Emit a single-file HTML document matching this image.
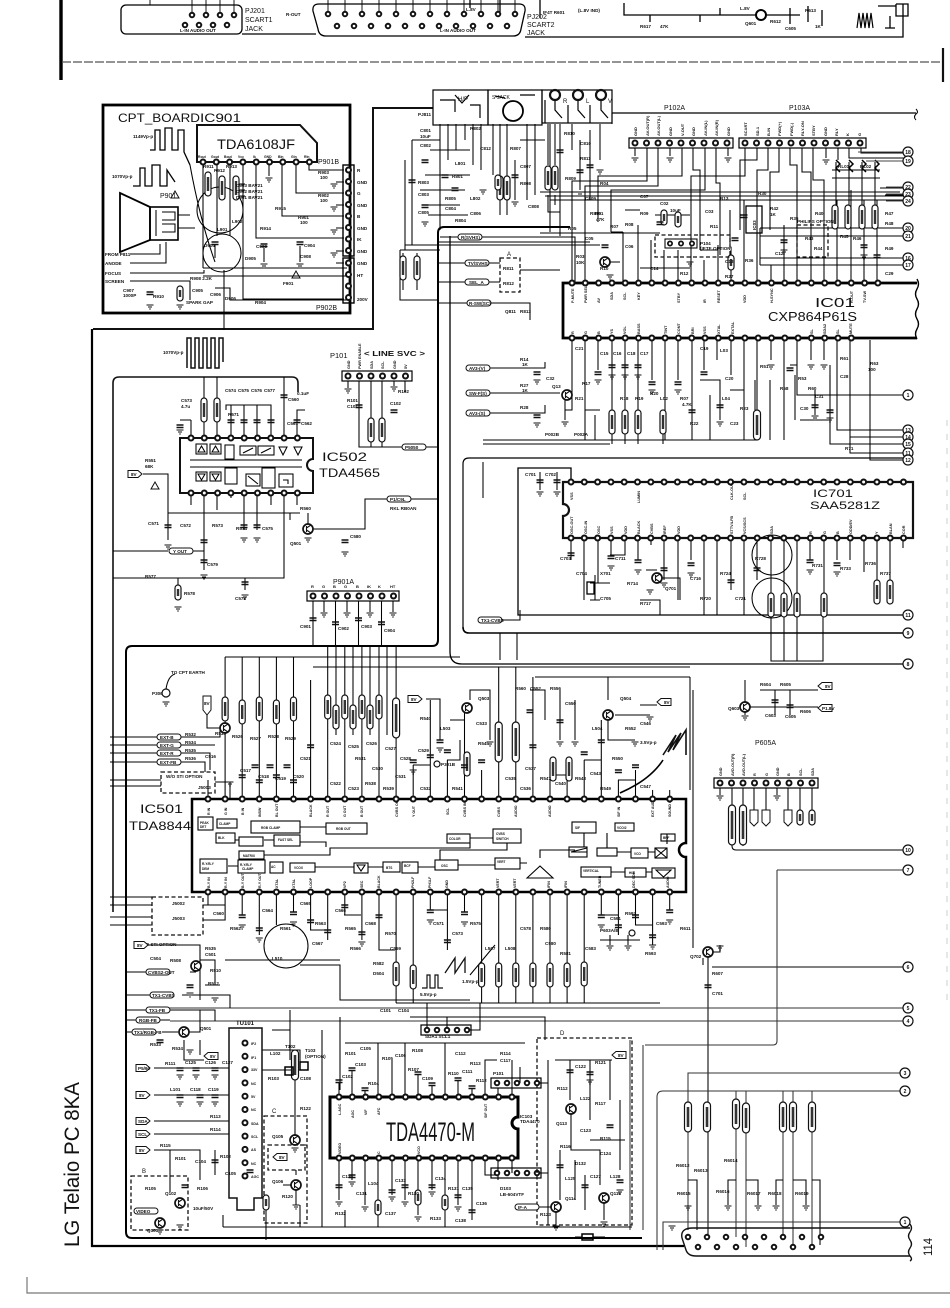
<!DOCTYPE html>
<html><head><meta charset="utf-8"><title>LG Telaio PC 8KA schematic</title>
<style>
html,body{margin:0;padding:0;background:#fff;width:950px;height:1308px;overflow:hidden}
svg{display:block}
.w{fill:none;stroke:#000;stroke-width:1.05}
.k{fill:none;stroke:#000;stroke-width:2.8}
.m{fill:none;stroke:#111;stroke-width:1.6}
.f{fill:none;stroke:#555;stroke-width:1;stroke-dasharray:9 2}
.d{fill:none;stroke:#111;stroke-width:1.3;stroke-dasharray:4 2.5}
.pd{fill:none;stroke:#111;stroke-width:7;stroke-linecap:round}
.pw{fill:none;stroke:#fff;stroke-width:3;stroke-linecap:round}
.t{font-family:"Liberation Sans",sans-serif;font-size:4.6px;font-weight:bold;fill:#111}
.s{font-family:"Liberation Sans",sans-serif;font-size:6px;fill:#111}
.L{font-family:"Liberation Sans",sans-serif;fill:#111}
.b{fill:#fff;stroke:#111;stroke-width:1.2}
</style></head><body>
<svg xmlns="http://www.w3.org/2000/svg" width="950" height="1308" viewBox="0 0 950 1308">
<rect width="950" height="1308" fill="#fff"/>
<defs>
<g id="pv"><rect x="-3" y="0" width="6" height="24" rx="3" fill="#fff" stroke="#111" stroke-width="1.2"/><path d="M0,5V19" stroke="#333" stroke-width="2.4"/></g>
<g id="pm"><rect x="-3.5" y="0" width="7" height="30" rx="3.5" fill="#fff" stroke="#111" stroke-width="1.2"/><path d="M0,5V25" stroke="#333" stroke-width="2.6"/></g>
<g id="ps"><rect x="-3" y="0" width="6" height="15" rx="3" fill="#fff" stroke="#111" stroke-width="1.2"/><path d="M0,4V11" stroke="#333" stroke-width="2.4"/></g>
<g id="pl"><rect x="-3.5" y="0" width="7" height="40" rx="3.5" fill="#fff" stroke="#111" stroke-width="1.2"/><path d="M0,6V34" stroke="#333" stroke-width="2.6"/></g>
<g id="g"><path d="M-3.5,0H3.5M-2,2H2M-.8,4H.8" stroke="#111" stroke-width="1" fill="none"/></g>
<g id="c"><path d="M-3.5,0H3.5M-3.5,2.5H3.5" stroke="#111" stroke-width="1.4" fill="none"/></g>
<g id="q"><circle r="5" fill="#fff" stroke="#111" stroke-width="1.7"/><path d="M-1.5,-3V3M-1.5,-1L3,-4M-1.5,1L3,4" stroke="#111" stroke-width="1.1" fill="none"/></g>
<g id="ar"><path d="M0,-3.5H10L14,0L10,3.5H0Z" fill="#fff" stroke="#111" stroke-width="1"/></g>
<g id="al"><path d="M14,-3.5H4L0,0L4,3.5H14Z" fill="#fff" stroke="#111" stroke-width="1"/></g>
<g id="tg"><rect x="0" y="-3" width="24" height="6" rx="3" fill="#fff" stroke="#111" stroke-width="1"/></g>
</defs>

<!-- ================= TOP STRIP ================= -->
<g class="w" style="stroke-width:1.3">
<path d="M61,0V80" style="stroke:#000;stroke-width:3.4"/>
<rect x="121" y="5" width="121" height="29" rx="5"/>
<path d="M242,34H316"/>
<path d="M319,4H519Q526,4 525,11L521,29Q520,36 513,36H326Q319,36 318,29L313,11Q312,4 319,4Z"/>
<path d="M525,37H903V4"/>
<path d="M150,5V0M192,15V0M206,15V0M220,15V0M234,15V0" style="stroke-width:.9"/>
<path d="M328,14V0M345,14V0M362,14V0M379,14V0M396,14V0M413,14V0M430,14V0M447,14V0M464,14V0M481,14V0M498,14V0M515,14V0" style="stroke-width:.9"/>
<path d="M624,3V15H755M767,15H800M790,8V24M808,6V22M822,10V26M650,15V22M700,15V22M720,8V15"/>
<circle cx="761" cy="15" r="5" style="stroke-width:2" fill="#fff"/>
<path d="M857,28L859,13L861,28L863,13L865,28L867,13L869,28L871,13L873,28" style="stroke-width:1.2"/>
<path d="M878,6H896M896,4V16H908V4H896M890,16V28M885,28H895"/>
<path d="M470,0V8M500,0V12M540,0V18"/>
</g>
<g class="pd" style="stroke-width:6.5"><path d="M185,25H227.1" stroke-dasharray="0 14"/><path d="M192,15H234.1" stroke-dasharray="0 14"/><path d="M328,14H515.1" stroke-dasharray="0 17"/><path d="M337,26H507.1" stroke-dasharray="0 17"/></g>
<g class="pw" style="stroke-width:2.6"><path d="M185,25H227.1" stroke-dasharray="0 14"/><path d="M192,15H234.1" stroke-dasharray="0 14"/><path d="M328,14H515.1" stroke-dasharray="0 17"/><path d="M337,26H507.1" stroke-dasharray="0 17"/></g>
<text class="s" x="245" y="13" style="font-size:7px">PJ201</text>
<text class="s" x="245" y="22" style="font-size:7px">SCART1</text>
<text class="s" x="245" y="31" style="font-size:7px">JACK</text>
<text class="s" x="527" y="19" style="font-size:7px">PJ202</text>
<text class="s" x="527" y="27" style="font-size:7px">SCART2</text>
<text class="s" x="527" y="35" style="font-size:7px">JACK</text>
<text class="t" x="180" y="32">L-IN AUDIO OUT</text>
<text class="t" x="440" y="32">L-IN AUDIO OUT</text>
<text class="t" x="286" y="16">R-OUT</text>
<text class="t" x="543" y="14">IF4T R601</text><text class="t" x="578" y="12">(L.8V IND)</text>
<text class="t" x="466" y="11">L.8V</text>
<text class="t" x="640" y="28">R617</text><text class="t" x="660" y="28">47K</text>
<text class="t" x="745" y="25">Q601</text><text class="t" x="770" y="23">R612</text><text class="t" x="785" y="30">C605</text>
<text class="t" x="805" y="12">R613</text><text class="t" x="815" y="28">1K</text><text class="t" x="740" y="10">L.8V</text>

<!-- dashed separator -->
<path class="f" d="M62,62H943" style="stroke-width:1.3"/>
<path d="M943,48V82" stroke="#111" stroke-width="2.2"/>

<!-- ================= FRAMES ================= -->
<path d="M433,108H373V329H93" class="m" style="stroke-width:2"/>
<path d="M92,329V1246H684" fill="none" stroke="#000" stroke-width="2.2"/>
<path d="M298,392V383Q298,377 292,377H119Q113,377 113,383V912" class="m"/>
<path d="M570,227H444Q438,227 438,233V640Q438,646 432,646H132Q126,646 126,652V1232Q126,1238 132,1238H642" fill="none" stroke="#000" stroke-width="2"/>
<path d="M450,236V652Q450,664 462,664H903" class="w" style="stroke-width:1.3"/>
<path d="M463,627V464Q463,458 469,458H903" class="w" style="stroke-width:1.2"/>
<path d="M463,627Q463,633 469,633H903" class="w" style="stroke-width:1.6"/>
<path d="M483,462V498" class="w"/>

<!-- ================= CPT BOARD ================= -->
<rect x="103" y="105" width="247" height="208" class="k"/>
<text class="L" x="118" y="122" style="font-size:12px" textLength="82" lengthAdjust="spacingAndGlyphs">CPT_BOARD</text>
<text class="L" x="200" y="122" style="font-size:12px" textLength="41" lengthAdjust="spacingAndGlyphs">IC901</text>
<path d="M197,125H300L317,143V162H197Z" fill="#fff" stroke="#111" stroke-width="2"/>
<text class="L" x="217" y="149" style="font-size:14px" textLength="78" lengthAdjust="spacingAndGlyphs">TDA6108JF</text>
<g class="t" style="font-size:3.4px"><text x="198" y="158">Rout</text><text x="211" y="158">Gout</text><text x="224" y="158">Bout</text><text x="238" y="158">Vcc</text><text x="253" y="158">Ik</text><text x="264" y="158">GND</text><text x="278" y="158">BIn</text><text x="291" y="158">GIn</text><text x="304" y="158">RIn</text></g>
<g class="w">
<path d="M203,162V268M217,162V236M230,162V236M243,162V299H344M256,162V238H344M269,162V176M282,162V216H344M296,162V193H344M309,162V170H344"/>
<path d="M336,182H344M336,205H344M336,228H344M336,251H344M336,263H344"/>
<path d="M150,150H155V130H160V150H165V128H172V150H178V130H184V152L190,165" style="stroke-width:1.3"/>
<path d="M133,186H140V168H145V186H152V165H160V186H167V170L175,182" style="stroke-width:1.3"/>
<path d="M190,165Q200,220 215,262"/>
<path d="M120,193L150,207V240L120,252Z" style="stroke-width:1.8"/>
<rect x="150" y="207" width="28" height="33" style="stroke-width:1.6"/>
<path d="M156,210V236M162,212H175V220H162M162,224H175V232H162M178,215H190M178,228H195"/>
<path d="M130,254H160V244M130,263H166V242M130,273H204V270M130,281H190V300M203,268H347M203,276H347M215,288H230V300H347M180,300V290"/>
<circle cx="220" cy="210" r="23"/>
<circle cx="222" cy="253" r="19"/>
<path d="M224,270V330"/>
<path d="M233,184H245M233,190H245M233,196H245"/>
<path d="M264,248V262M300,246V262M215,245V258"/>
</g>
<use href="#g" x="269" y="178"/><use href="#g" x="334" y="184"/><use href="#g" x="334" y="207"/><use href="#g" x="334" y="230"/><use href="#g" x="334" y="253"/><use href="#g" x="150" y="305"/><use href="#g" x="180" y="305"/><use href="#g" x="264" y="264"/><use href="#g" x="300" y="264"/>
<use href="#c" x="264" y="244"/><use href="#c" x="300" y="242"/><use href="#c" x="215" y="242"/><use href="#c" x="150" y="292"/>
<use href="#ps" x="180" y="286"/>
<use href="#pv" x="208" y="172"/><use href="#pv" x="222" y="176"/><use href="#pv" x="236" y="176"/>
<path d="M171,198L175,191L179,198Z" fill="none" stroke="#111"/>
<path d="M292,278L296,271L300,278Z" fill="none" stroke="#111"/>
<text class="s" x="160" y="198" style="font-size:7px">P901</text>
<text class="t" x="133" y="138">1149Vp-p</text><text class="t" x="112" y="178">1070Vp-p</text>
<text class="t" x="105" y="256">FROM P811</text><text class="t" x="105" y="265">ANODE</text><text class="t" x="105" y="275">FOCUS</text><text class="t" x="105" y="283">SCREEN</text>
<g class="t"><text x="203" y="168">R911</text><text x="214" y="172">R912</text><text x="226" y="168">R913</text><text x="236" y="187">D903 BAV21</text><text x="236" y="193">D902 BAV21</text><text x="236" y="199">D901 BAV21</text><text x="318" y="174">R903</text><text x="320" y="179">100</text><text x="318" y="197">R902</text><text x="320" y="202">100</text><text x="298" y="219">R901</text><text x="300" y="224">100</text><text x="256" y="248">C903</text><text x="304" y="247">C904</text><text x="204" y="247">D904</text><text x="283" y="285">F901</text><text x="190" y="280">R908 2.2K</text><text x="192" y="292">C905</text><text x="123" y="292">C907</text><text x="123" y="297">1000P</text><text x="153" y="298">R910</text><text x="186" y="304">SPARK GAP</text><text x="210" y="296">C906</text><text x="225" y="300">D906</text><text x="255" y="304">R904</text><text x="217" y="231">L901</text><text x="232" y="223">L902</text><text x="260" y="230">R914</text><text x="275" y="210">R915</text><text x="300" y="258">C908</text><text x="245" y="260">D905</text></g>
<g class="t"><text x="357" y="172">R</text><text x="357" y="184">GND</text><text x="357" y="195">G</text><text x="357" y="207">GND</text><text x="357" y="218">B</text><text x="357" y="230">GND</text><text x="357" y="241">IK</text><text x="357" y="253">GND</text><text x="357" y="265">GND</text><text x="357" y="277">HT</text><text x="357" y="301">200V</text></g>
<rect x="343" y="165" width="11" height="91" class="w" style="stroke-width:1.4"/>
<rect x="343" y="258" width="11" height="45" class="w" style="stroke-width:1.4"/>
<text class="s" x="318" y="164" style="font-size:7px">P901B</text>
<text class="s" x="316" y="310" style="font-size:7px">P902B</text>
<path d="M187,368V338H191V368H195V338H199V368H203V338H207V368H211V338H215V368H219V338H223V362" fill="none" stroke="#111" stroke-width="1.5"/>
<text class="t" x="163" y="354">1070Vp-p</text>

<!-- ================= JACKS / LEFT-MID ================= -->
<g class="w" style="stroke-width:1.2">
<rect x="433" y="90" width="55" height="35"/>
<rect x="488" y="90" width="54" height="35"/>
<rect x="542" y="90" width="70" height="33"/>
<circle cx="513" cy="111" r="10" style="stroke-width:1.8"/>
<path d="M455,95L462,103L469,95M440,100H455V112M470,105H480V118M495,96L505,98M520,95H535"/>
<path d="M555,100V110L562,118M578,100V110L585,118M601,100V110L608,118M545,123V100M568,123V105M590,123V105"/>
</g>
<circle cx="555" cy="95" r="5" fill="#fff" stroke="#111" stroke-width="2.2"/><circle cx="578" cy="95" r="5" fill="#fff" stroke="#111" stroke-width="2.2"/><circle cx="601" cy="95" r="5" fill="#fff" stroke="#111" stroke-width="2.2"/>
<text class="s" x="458" y="101">H/P</text><text class="s" x="492" y="99" style="font-size:5px">S-JACK</text>
<text class="s" x="563" y="103">R</text><text class="s" x="586" y="103">L</text><text class="s" x="608" y="103">V</text>
<text class="t" x="418" y="116">PJ811</text>
<g class="w">
<path d="M440,124V230M448,124V160M456,124V150M465,124V140M473,124V165M481,124V170M493,124V175M500,124V215M507,124V215M527,124V200M535,124V195M550,124V232M560,124V236M572,124V150M600,124V160M612,124V113"/>
<path d="M430,150H470M425,175H470M420,190H465M425,205H460M428,215H468M405,160V250M412,140H440M412,140V245"/>
<path d="M400,250V300H437M400,250H440M403,253V290M417,253V290M405,245H600M440,237H458M482,237H575V283M438,242H590"/>
<path d="M437,263H465M489,263H500M520,270H560M437,282H465M489,282H500M437,303H467M491,303H530V320"/>
<path d="M548,124V165M555,124V165M548,195V212H560M555,195V205M520,140H545M515,160V200M590,130V200M580,140V190"/>
</g>
<use href="#pv" x="500" y="176"/><use href="#pv" x="507" y="176"/><use href="#pv" x="403" y="256"/><use href="#pv" x="417" y="256"/><use href="#pv" x="548" y="166"/><use href="#pv" x="555" y="166"/>
<use href="#ps" x="498" y="175"/>
<use href="#c" x="425" y="160"/><use href="#c" x="445" y="175"/><use href="#c" x="455" y="188"/><use href="#c" x="425" y="205"/><use href="#c" x="560" y="150"/><use href="#c" x="412" y="180"/><use href="#c" x="515" y="175"/><use href="#c" x="590" y="165"/><use href="#c" x="580" y="170"/>
<use href="#g" x="483" y="190"/><use href="#g" x="425" y="222"/><use href="#g" x="600" y="170"/><use href="#g" x="515" y="202"/><use href="#g" x="580" y="192"/>
<use href="#tg" x="458" y="237"/><text class="t" x="461" y="239">R(SVHS)</text>
<use href="#tg" x="465" y="263"/><text class="t" x="468" y="265">TV/SVHS</text>
<use href="#tg" x="465" y="282"/><text class="t" x="469" y="284">SEL_A</text>
<use href="#tg" x="467" y="303"/><text class="t" x="469" y="305">R-SW(SC)</text>
<rect x="500" y="258" width="20" height="34" class="d"/>
<text class="s" x="507" y="256">A</text>
<g class="t"><text x="420" y="132">C801</text><text x="420" y="138">10uF</text><text x="420" y="147">C802</text><text x="455" y="165">L801</text><text x="452" y="178">R801</text><text x="418" y="184">R803</text><text x="418" y="196">C803</text><text x="445" y="200">R805</text><text x="445" y="210">C804</text><text x="418" y="214">C805</text><text x="470" y="200">L802</text><text x="470" y="215">C806</text><text x="510" y="150">R807</text><text x="520" y="168">C807</text><text x="564" y="135">R810</text><text x="580" y="145">C810</text><text x="580" y="160">R811</text><text x="503" y="270">R811</text><text x="503" y="285">R812</text><text x="505" y="313">Q811</text><text x="520" y="313">R813</text><text x="520" y="185">R808</text><text x="528" y="208">C808</text><text x="565" y="180">R809</text><text x="585" y="200">C809</text><text x="590" y="215">R815</text><text x="470" y="130">R802</text><text x="480" y="150">C812</text><text x="455" y="222">R804</text></g>

<!-- ================= IC01 REGION ================= -->
<path d="M612,113H916" class="w" style="stroke-width:1.3"/>
<path d="M916,109q3,3 0,5q-3,3 0,6" class="w"/>
<text class="s" x="664" y="110" style="font-size:7px">P102A</text>
<text class="s" x="789" y="110" style="font-size:7px">P103A</text>
<rect x="629" y="138" width="104" height="10" class="w" style="stroke-width:1.2"/>
<rect x="739" y="138" width="127" height="10" class="w" style="stroke-width:1.2"/>
<g class="t" style="font-size:4px">
<text transform="translate(637,136) rotate(-90)">GND</text><text transform="translate(649,136) rotate(-90)">AV-OUT(R)</text><text transform="translate(660,136) rotate(-90)">AV-OUT(L)</text><text transform="translate(672,136) rotate(-90)">GND</text><text transform="translate(684,136) rotate(-90)">V-OUT</text><text transform="translate(695,136) rotate(-90)">GND</text><text transform="translate(707,136) rotate(-90)">AV-IN(L)</text><text transform="translate(718,136) rotate(-90)">AV-IN(R)</text><text transform="translate(730,136) rotate(-90)">GND</text>
<text transform="translate(747,136) rotate(-90)">SCART</text><text transform="translate(759,136) rotate(-90)">SD-1</text><text transform="translate(770,136) rotate(-90)">B-IN</text><text transform="translate(781,136) rotate(-90)">FWD(+)</text><text transform="translate(793,136) rotate(-90)">FWD(-)</text><text transform="translate(804,136) rotate(-90)">RLY-ON</text><text transform="translate(815,136) rotate(-90)">STBY</text><text transform="translate(827,136) rotate(-90)">GND</text><text transform="translate(838,136) rotate(-90)">RLY</text><text transform="translate(849,136) rotate(-90)">K</text><text transform="translate(861,136) rotate(-90)">G</text>
</g>
<g class="w">
<path d="M635,148V156M670,148V156M728,148V156M826,148V158"/>
<path d="M647,148V181H572V283M658,148V186H585V283M682,148V176H598V222M693,148V170H700V250M705,148V190H611V232M716,148V183H720V255"/>
<path d="M745,148V176H691V283M757,148V160H740V230M768,148V170H757V283M779,148V172H770V230M790,148V165H797V283M802,148V172H811V283M813,148V180H824V283M838,148V160M849,148V158H907M861,148V153H907"/>
<path d="M540,192H900M545,196H905M550,200H903"/>
<path d="M540,233H660M880,188H907M885,195H907M890,201H907"/>
<path d="M623,232V283M638,225V283M651,240V283M664,250V283M678,250V283M704,260V283M718,245V283M731,250V283M744,200V283M771,265V283M784,225V283M837,200V283M851,190V283M864,200V283M877,200V283"/>
<path d="M760,228H907M760,236H907M760,258H907M760,265H907M760,228V265"/>
<path d="M611,232H623M700,250H718M625,210H640M655,215H690M600,262H620M640,268H690M730,210V245"/>
<path d="M836,162V205M849,162V205M862,162V205M875,162V205M832,170H880M832,178H880"/>
</g>
<g class="w" style="stroke-width:1.5"><path d="M836,160l4,4-4,4 4,4M849,160l4,4-4,4 4,4M862,160l4,4-4,4 4,4M875,160l4,4-4,4 4,4"/></g>
<use href="#pv" x="835" y="205"/><use href="#pv" x="848" y="205"/><use href="#pv" x="862" y="205"/><use href="#pv" x="875" y="205"/>
<use href="#ps" x="664" y="210"/><use href="#ps" x="678" y="212"/><use href="#ps" x="731" y="255"/>
<rect x="746" y="206" width="16" height="27" class="w" style="stroke-width:1.3"/><text class="t" transform="translate(756,230) rotate(-90)">IC03</text>
<rect x="655" y="235" width="75" height="22" class="d"/>
<rect x="665" y="239" width="32" height="9" class="w"/>
<g class="pd" style="stroke-width:6"><path d="M670,243.5H692.1" stroke-dasharray="0 11"/></g><g class="pw" style="stroke-width:2.5"><path d="M670,243.5H692.1" stroke-dasharray="0 11"/></g>
<text class="t" x="700" y="245">P104</text><text class="t" x="700" y="250">(IETE OPTION)</text>
<rect x="797" y="225" width="31" height="32" class="d"/>
<text class="t" x="797" y="223">PHILIPS OPTION</text>
<g class="t"><text x="595" y="215">R01</text><text x="596" y="221">47K</text><text x="610" y="228">R07</text><text x="625" y="226">R08</text><text x="640" y="215">R09</text><text x="660" y="205">C02</text><text x="670" y="212">10uF</text><text x="705" y="213">C03</text><text x="725" y="263">C13</text><text x="745" y="262">R36</text><text x="770" y="210">R42</text><text x="770" y="216">1K</text><text x="805" y="240">R43</text><text x="814" y="250">R44</text><text x="840" y="238">R45</text><text x="853" y="240">R46</text><text x="568" y="230">R05</text><text x="585" y="240">C05</text><text x="600" y="270">R10</text><text x="650" y="270">C14</text><text x="680" y="275">R12</text><text x="725" y="278">R27</text><text x="838" y="168">RL01</text><text x="860" y="168">RL02</text><text x="576" y="258">R03</text><text x="576" y="264">10K</text><text x="625" y="248">C06</text><text x="710" y="228">R11</text><text x="790" y="220">R35</text><text x="775" y="255">C12</text><text x="815" y="215">R40</text><text x="885" y="215">R47</text><text x="885" y="225">R48</text><text x="885" y="250">R49</text><text x="885" y="275">C29</text><text x="600" y="185">R04</text><text x="640" y="198">C07</text><text x="720" y="200">R13</text><text x="758" y="195">R30</text></g>
<use href="#c" x="605" y="245"/><use href="#c" x="660" y="222"/><use href="#c" x="735" y="238"/><use href="#g" x="690" y="262"/><use href="#g" x="826" y="160"/><use href="#g" x="635" y="158"/><use href="#g" x="670" y="158"/><use href="#g" x="728" y="158"/><use href="#g" x="610" y="275"/>
<use href="#c" x="744" y="215"/><use href="#c" x="784" y="240"/><use href="#c" x="864" y="245"/><use href="#c" x="877" y="255"/><use href="#g" x="784" y="250"/><use href="#g" x="864" y="255"/>
<use href="#q" x="605" y="262"/>

<!-- IC01 body -->
<path d="M917,283H563V338H917" class="k"/>
<path d="M917,279q3,5 0,10q-3,5 0,10q3,5 0,10q-3,5 0,10q3,5 0,10q-3,5 0,10" class="w" style="stroke-width:1.4"/>
<text class="L" x="815" y="307" style="font-size:13px" textLength="40" lengthAdjust="spacingAndGlyphs">IC01</text>
<text class="L" x="768" y="321" style="font-size:13px" textLength="89" lengthAdjust="spacingAndGlyphs">CXP864P61S</text>
<g class="t" style="font-size:3.8px">
<text transform="translate(574,303) rotate(-90)">P-MUTE</text><text transform="translate(587,303) rotate(-90)">PWR SEL</text><text transform="translate(600,303) rotate(-90)">AV</text><text transform="translate(613,300) rotate(-90)">SDA</text><text transform="translate(626,300) rotate(-90)">SCL</text><text transform="translate(640,300) rotate(-90)">KEY</text><text transform="translate(680,303) rotate(-90)">STBY</text><text transform="translate(706,303) rotate(-90)">IR</text><text transform="translate(720,303) rotate(-90)">RESET</text><text transform="translate(746,303) rotate(-90)">VDD</text><text transform="translate(773,303) rotate(-90)">H-SYNC</text><text transform="translate(839,300) rotate(-90)">T</text><text transform="translate(853,303) rotate(-90)">R-OUT</text><text transform="translate(866,303) rotate(-90)">TV-SW</text>
<text transform="translate(574,334) rotate(-90)">R</text><text transform="translate(587,334) rotate(-90)">G</text><text transform="translate(600,334) rotate(-90)">B</text><text transform="translate(613,334) rotate(-90)">YS</text><text transform="translate(626,334) rotate(-90)">VOL</text><text transform="translate(640,334) rotate(-90)">BASS</text><text transform="translate(667,334) rotate(-90)">TINT</text><text transform="translate(680,334) rotate(-90)">CONT</text><text transform="translate(694,334) rotate(-90)">BRI</text><text transform="translate(706,334) rotate(-90)">VSS</text><text transform="translate(720,334) rotate(-90)">XTAL</text><text transform="translate(734,334) rotate(-90)">EXTAL</text><text transform="translate(813,334) rotate(-90)">SL</text><text transform="translate(826,334) rotate(-90)">SDA2</text><text transform="translate(839,334) rotate(-90)">SL</text><text transform="translate(852,334) rotate(-90)">MUTE</text>
</g>

<!-- below IC01 -->
<g class="w">
<path d="M572,338V410H565M585,338V440M598,338V370M612,338V410M625,338V410M638,338V410M652,338V380M665,338V440M678,338V380M692,338V440M704,338V370M717,338V360M731,338V375M744,338V440M757,338V410M771,338V360M784,338V440M797,338V395H907M811,338V360M824,338V360M837,338V430H907M850,338V437H907M830,365V444H907M850,340V453H907M870,340V460H907"/>
<path d="M490,368H545V362M490,393H560M490,413H545V405M483,440H757M483,444H610M612,434V444M625,434V444M638,434V444M663,434V444"/>
<path d="M565,400V420M585,410H600M595,415V440M755,380V410M770,380V440M790,365H797M795,375V420M800,420H830M815,390V415M830,375V395M700,380H720V420M710,395V440M730,390H744"/>
</g>
<use href="#pv" x="612" y="410"/><use href="#pv" x="625" y="410"/><use href="#pv" x="638" y="410"/><use href="#pv" x="663" y="410"/><use href="#pm" x="757" y="410"/>
<use href="#q" x="567" y="395"/>
<use href="#c" x="598" y="372"/><use href="#c" x="612" y="365"/><use href="#c" x="625" y="365"/><use href="#c" x="638" y="365"/><use href="#c" x="652" y="382"/><use href="#c" x="678" y="382"/><use href="#c" x="704" y="372"/><use href="#c" x="537" y="372"/><use href="#c" x="537" y="415"/><use href="#c" x="790" y="368"/><use href="#c" x="815" y="405"/><use href="#c" x="830" y="410"/><use href="#c" x="720" y="405"/><use href="#c" x="692" y="410"/>
<use href="#g" x="598" y="380"/><use href="#g" x="612" y="375"/><use href="#g" x="625" y="375"/><use href="#g" x="638" y="375"/><use href="#g" x="652" y="390"/><use href="#g" x="678" y="390"/><use href="#g" x="537" y="380"/><use href="#g" x="537" y="423"/><use href="#g" x="565" y="422"/><use href="#g" x="815" y="416"/><use href="#g" x="830" y="418"/><use href="#g" x="771" y="365"/><use href="#g" x="811" y="365"/><use href="#g" x="824" y="365"/><use href="#g" x="720" y="422"/>
<use href="#tg" x="466" y="368"/><text class="t" x="469" y="370">AV3-(V)</text>
<use href="#tg" x="466" y="393"/><text class="t" x="469" y="395">SW-F(S)</text>
<use href="#tg" x="466" y="413"/><text class="t" x="469" y="415">AV3-(S)</text>
<g class="t"><text x="520" y="361">R14</text><text x="522" y="366">1K</text><text x="520" y="387">R27</text><text x="522" y="392">1K</text><text x="520" y="409">R28</text><text x="546" y="380">C32</text><text x="552" y="388">Q13</text><text x="575" y="400">R21</text><text x="575" y="350">C21</text><text x="600" y="355">C15</text><text x="613" y="355">C16</text><text x="627" y="355">C18</text><text x="640" y="355">C17</text><text x="582" y="385">R17</text><text x="620" y="400">R18</text><text x="635" y="400">R19</text><text x="650" y="395">R20</text><text x="660" y="400">L02</text><text x="680" y="400">R07</text><text x="682" y="406">4.7K</text><text x="700" y="350">C19</text><text x="720" y="352">L03</text><text x="725" y="380">C20</text><text x="722" y="400">L04</text><text x="740" y="410">R23</text><text x="780" y="390">R58</text><text x="798" y="380">R53</text><text x="808" y="390">R60</text><text x="840" y="360">R61</text><text x="840" y="378">C28</text><text x="815" y="398">C31</text><text x="870" y="365">R63</text><text x="868" y="371">100</text><text x="545" y="436">P002B</text><text x="574" y="436">P002A</text><text x="845" y="450">R71</text><text x="690" y="425">R22</text><text x="730" y="425">C23</text><text x="760" y="368">R51</text><text x="800" y="410">C30</text></g>

<!-- ================= IC502 REGION ================= -->
<path d="M180,438H313V459A6,6 0 0 0 313,471V493H180Z" fill="#fff" stroke="#111" stroke-width="2"/>
<g class="w">
<path d="M190,460H302M190,467H302"/>
<rect x="196" y="444" width="11" height="10"/><rect x="210" y="444" width="11" height="10"/><rect x="225" y="445" width="9" height="14"/><rect x="240" y="446" width="16" height="9"/><rect x="258" y="446" width="16" height="9"/>
<path d="M198,452L201.5,446L205,452ZM212,452L215.5,446L219,452ZM279,447H287L283,455ZM294,447H302L298,455Z"/>
<path d="M243,453L253,448M261,453L271,448"/>
<rect x="196" y="472" width="11" height="9"/><rect x="210" y="472" width="11" height="9"/><rect x="225" y="468" width="12" height="16"/><rect x="246" y="474" width="14" height="12"/><rect x="262" y="468" width="13" height="20"/><rect x="279" y="474" width="14" height="13"/>
<path d="M198,474L201.5,480L205,474ZM212,474L215.5,480L219,474ZM248,476L258,484M283,480H288V484"/>
<path d="M191,438V420M204,438V377M217,438V377M231,438V405M244,438V405M257,438V405M271,438V405H226V410M284,438V377M297,438V410H305M180,420H191"/>
<path d="M191,493V505M204,493V551M217,493V510M231,493V498M244,493V530M257,493V530M271,493V505M284,493V578H113M297,493V505"/>
<path d="M143,474H168V513H300M168,513V540M204,551H193M168,551H113"/>
<path d="M313,529H365V499H387M411,499H437M308,513V524M290,513V520"/>
<path d="M178,578V600M245,578V590M204,551V570"/>
</g>
<use href="#pv" x="204" y="398"/><use href="#pv" x="217" y="398"/>
<use href="#c" x="231" y="420"/><use href="#c" x="244" y="420"/><use href="#c" x="257" y="420"/><use href="#c" x="271" y="420"/><use href="#c" x="284" y="395"/><use href="#c" x="297" y="420"/><use href="#c" x="180" y="425"/>
<use href="#c" x="168" y="525"/><use href="#c" x="204" y="540"/><use href="#c" x="257" y="525"/><use href="#c" x="244" y="525"/><use href="#c" x="245" y="582"/><use href="#c" x="204" y="560"/><use href="#c" x="345" y="540"/>
<use href="#g" x="168" y="545"/><use href="#g" x="244" y="538"/><use href="#g" x="257" y="538"/><use href="#g" x="178" y="607"/><use href="#g" x="245" y="595"/><use href="#g" x="308" y="538"/><use href="#g" x="345" y="552"/><use href="#g" x="204" y="575"/><use href="#g" x="180" y="430"/>
<use href="#ps" x="178" y="585"/>
<use href="#q" x="308" y="529"/>
<use href="#ar" x="128" y="474"/><text class="t" x="131" y="476">8V</text>
<path d="M151,489L155,482L159,489Z" fill="none" stroke="#111"/>
<use href="#tg" x="169" y="551"/><text class="t" x="173" y="553">Y OUT</text>
<use href="#tg" x="387" y="499"/><text class="t" x="390" y="501">P1/C9L</text>
<text class="L" x="322" y="461" style="font-size:12px" textLength="45" lengthAdjust="spacingAndGlyphs">IC502</text>
<text class="L" x="319" y="477" style="font-size:12px" textLength="61" lengthAdjust="spacingAndGlyphs">TDA4565</text>
<g class="t"><text x="181" y="402">C573</text><text x="181" y="408">4.7u</text><text x="225" y="392">C574</text><text x="238" y="392">C575</text><text x="251" y="392">C576</text><text x="264" y="392">C577</text><text x="228" y="416">R571</text><text x="288" y="401">C560</text><text x="297" y="395">0.1uF</text><text x="287" y="425">C561</text><text x="301" y="425">C562</text><text x="145" y="462">R551</text><text x="145" y="468">68K</text><text x="148" y="525">C571</text><text x="180" y="527">C572</text><text x="212" y="527">R573</text><text x="236" y="530">R574</text><text x="262" y="530">C575</text><text x="300" y="510">R560</text><text x="290" y="545">Q501</text><text x="145" y="578">R577</text><text x="184" y="595">R578</text><text x="235" y="600">C578</text><text x="207" y="566">C579</text><text x="350" y="538">C580</text><text x="390" y="510">RKL RB0AN</text></g>

<!-- P101 -->
<text class="s" x="330" y="358" style="font-size:7.5px">P101</text>
<text class="L" x="364" y="356" style="font-size:7.5px;font-weight:bold" textLength="61" lengthAdjust="spacingAndGlyphs">&lt; LINE SVC &gt;</text>
<rect x="342" y="371" width="70" height="10" class="w" style="stroke-width:1.2"/>
<g class="t" style="font-size:3.8px"><text transform="translate(350,369) rotate(-90)">GND</text><text transform="translate(361,369) rotate(-90)">PWR ENABLE</text><text transform="translate(373,369) rotate(-90)">SDA</text><text transform="translate(384,369) rotate(-90)">SCL</text><text transform="translate(396,369) rotate(-90)">GND</text><text transform="translate(407,369) rotate(-90)">5V</text></g>
<g class="w"><path d="M348,381V388M359,381V447H402M371,381V418M382,381V418M394,381V386M405,381V392M371,442V447M382,442V447M426,447H437"/></g>
<use href="#g" x="348" y="389"/><use href="#g" x="394" y="387"/>
<use href="#pv" x="371" y="418"/><use href="#pv" x="382" y="418"/>
<use href="#c" x="359" y="405"/><use href="#c" x="394" y="410"/>
<use href="#tg" x="402" y="447"/><text class="t" x="405" y="449">P5050</text>
<g class="t"><text x="347" y="402">R101</text><text x="347" y="408">C101</text><text x="390" y="405">C102</text><text x="398" y="393">R102</text></g>

<!-- P901A -->
<text class="s" x="333" y="584" style="font-size:7px">P901A</text>
<rect x="307" y="591" width="92" height="10" class="w" style="stroke-width:1.2"/>
<g class="t" style="font-size:4px"><text x="311" y="588">R</text><text x="322" y="588">G</text><text x="333" y="588">B</text><text x="344" y="588">G</text><text x="356" y="588">B</text><text x="367" y="588">IK</text><text x="378" y="588">K</text><text x="390" y="588">HT</text></g>
<g class="w"><path d="M313,601V646M324,601V612M335.5,601V646M347,601V612M358.5,601V646M370,601V612M381.5,601V646M393,601V612"/></g>
<use href="#g" x="324" y="613"/><use href="#g" x="347" y="613"/><use href="#g" x="370" y="613"/><use href="#g" x="393" y="613"/>
<use href="#c" x="313" y="618"/><use href="#c" x="335.5" y="622"/><use href="#c" x="358.5" y="618"/><use href="#c" x="381.5" y="622"/>
<g class="t"><text x="300" y="628">C901</text><text x="338" y="630">C902</text><text x="361" y="628">C903</text><text x="384" y="632">C904</text></g>

<!-- ================= IC701 REGION ================= -->
<path d="M571,482V468H518V615H903" class="w" style="stroke-width:1.3"/>
<path d="M563,482H913V538H563V516A6,6 0 0 0 563,504Z" fill="#fff" stroke="#111" stroke-width="2.2"/>
<text class="L" x="813" y="497" style="font-size:11px" textLength="40" lengthAdjust="spacingAndGlyphs">IC701</text>
<text class="L" x="810" y="509" style="font-size:11px" textLength="70" lengthAdjust="spacingAndGlyphs">SAA5281Z</text>
<g class="t" style="font-size:3.8px">
<text transform="translate(573,500) rotate(-90)">VSS</text><text transform="translate(640,503) rotate(-90)">LUMIN</text><text transform="translate(733,500) rotate(-90)">CLK-OUT</text><text transform="translate(746,500) rotate(-90)">SCL</text>
<text transform="translate(573,534) rotate(-90)">OSC-OUT</text><text transform="translate(587,534) rotate(-90)">OSC-IN</text><text transform="translate(600,534) rotate(-90)">OSC</text><text transform="translate(613,534) rotate(-90)">VSS</text><text transform="translate(627,534) rotate(-90)">VDD</text><text transform="translate(640,534) rotate(-90)">BLACK</text><text transform="translate(653,534) rotate(-90)">CVBS</text><text transform="translate(666,534) rotate(-90)">IREF</text><text transform="translate(680,534) rotate(-90)">VDD</text><text transform="translate(733,534) rotate(-90)">STTV/LFB</text><text transform="translate(746,534) rotate(-90)">VCS/SCS</text><text transform="translate(773,534) rotate(-90)">SDA</text><text transform="translate(812,534) rotate(-90)">R</text><text transform="translate(826,534) rotate(-90)">G</text><text transform="translate(839,534) rotate(-90)">B</text><text transform="translate(852,534) rotate(-90)">ODD/EV</text><text transform="translate(878,534) rotate(-90)">Y</text><text transform="translate(892,534) rotate(-90)">BLAN</text><text transform="translate(905,534) rotate(-90)">COR</text>
</g>
<g class="w">
<path d="M571,538V560M584,538V600M598,538V583M611,538V555M625,538V555H610M638,538V560M651,538V545M664,538V580M678,538V600M691,538V560M704,538V615M717,538V615M731,538V590M744,538V615M757,538V580M771,538V661H823V600M784,538V661M797,538V661M810,538V560M824,538V600M837,538V560M850,538V560M864,538V572M877,538V585M890,538V585M903,538V548"/>
<path d="M540,472V490M557,472V490M590,583H610M646,570H657M662,578H680V600M640,600H660V615"/>
<path d="M595,575V600M590,600H600"/>
</g>
<circle cx="772" cy="555" r="20" class="w"/><circle cx="772" cy="598" r="20" class="w"/>
<use href="#pv" x="771" y="593"/><use href="#pv" x="784" y="593"/><use href="#pv" x="797" y="593"/><use href="#pv" x="824" y="593"/><use href="#pv" x="877" y="580"/><use href="#pv" x="890" y="580"/>
<use href="#q" x="657" y="578"/>
<rect x="587" y="582" width="7" height="12" class="w" style="stroke-width:1.3"/>
<use href="#c" x="540" y="480"/><use href="#c" x="557" y="480"/><use href="#c" x="571" y="553"/><use href="#c" x="611" y="556"/><use href="#c" x="638" y="560"/><use href="#c" x="664" y="568"/><use href="#c" x="691" y="563"/><use href="#c" x="731" y="580"/><use href="#c" x="757" y="568"/><use href="#c" x="810" y="560"/><use href="#c" x="837" y="563"/>
<use href="#g" x="540" y="492"/><use href="#g" x="557" y="492"/><use href="#g" x="611" y="566"/><use href="#g" x="638" y="570"/><use href="#g" x="664" y="583"/><use href="#g" x="691" y="573"/><use href="#g" x="650" y="590"/><use href="#g" x="810" y="570"/><use href="#g" x="837" y="572"/>
<use href="#tg" x="478" y="620"/><text class="t" x="481" y="622">TX1-CVBS</text>
<path d="M502,620H520V610" class="w"/>
<path d="M500,633V660M517,633V660" class="w"/>
<g class="t"><text x="525" y="476">C701</text><text x="545" y="476">C702</text><text x="560" y="560">C703</text><text x="576" y="575">C704</text><text x="600" y="575">X701</text><text x="600" y="600">C705</text><text x="615" y="560">C711</text><text x="627" y="585">R714</text><text x="640" y="605">R717</text><text x="665" y="590">Q701</text><text x="690" y="580">C716</text><text x="700" y="600">R720</text><text x="720" y="575">R724</text><text x="735" y="600">C721</text><text x="755" y="560">R728</text><text x="812" y="567">R731</text><text x="840" y="570">R733</text><text x="865" y="565">R736</text><text x="880" y="575">R737</text></g>

<!-- ================= IC501 REGION ================= -->
<text class="t" x="171" y="674">TO CPT EARTH</text>
<circle cx="166" cy="693" r="4" class="b"/><path d="M166,689Q168,676 175,674" class="w"/><text class="t" x="152" y="695">P306</text>
<use href="#g" x="166" y="702"/>
<path d="M203,696h8v14l-4,5l-4,-5z" fill="#fff" stroke="#111"/><text class="t" x="204" y="705">8V</text>
<g class="w">
<path d="M207,715V728H220M225,657H460M225.1,657V799M242.2,657V799M259.3,657V799M276.4,657V799M293.5,657V799M310.6,680V799M313,667H690M327.7,646V799M336,646V735M344.8,646V799M353,646V735M361.9,646V799M370,646V735M379,646V799M387,646V735M396.1,646V799"/>
<path d="M413.2,765V799M430.3,700V799M447.4,760V799M464.5,713V799M481.6,770V799M498.7,667V799M515.8,667V799M532.9,677V799M535,677H690M550,775V799M567.1,775V799M584.2,760V799M601.3,720V799M618.4,780V799M635.5,770V799M652.6,790V799M669.7,790V799M690,677V790"/>
<path d="M426,699H440V740M450,720H464M470,700V690H490V740M608,700V677M608,720V740H635M615,715H650M640,705H657M560,690V740M575,700V740M530,690H545V720"/>
<path d="M110,737H157M110,745H157M110,753H157M110,762H157M181,737H220V728M181,745H215M181,753H210V770M181,762H205V772"/>
<path d="M208,799V780M110,780H161M110,786H161M215,782H230V799"/>
<path d="M413,765H430M447,760H460V740M550,775H567M584,760H601M618,780H635"/>
</g>
<g class="w" style="stroke-width:1.6"><path d="M620,793Q650,780 663,760"/></g>
<path d="M663,755L676,735L668,752L681,733L673,750L686,730V755" fill="none" stroke="#111" stroke-width="1.6"/>
<text class="t" x="640" y="744">3.5Vp-p</text>
<use href="#pv" x="225.1" y="697"/><use href="#pv" x="242.2" y="700"/><use href="#pv" x="259.3" y="697"/><use href="#pv" x="276.4" y="700"/><use href="#pv" x="293.5" y="697"/>
<use href="#pv" x="327.7" y="695"/><use href="#pv" x="336" y="705"/><use href="#pv" x="344.8" y="695"/><use href="#pv" x="353" y="705"/><use href="#pv" x="361.9" y="695"/><use href="#pv" x="370" y="705"/><use href="#pv" x="379" y="695"/><use href="#pl" x="396.1" y="698"/>
<use href="#pl" x="498.7" y="722"/><use href="#pl" x="515.8" y="722"/><use href="#pv" x="467" y="752"/><use href="#pv" x="553" y="757"/><use href="#pv" x="569" y="757"/>
<use href="#q" x="225" y="728"/><use href="#q" x="467" y="708"/><use href="#q" x="608" y="715"/>
<use href="#ar" x="408" y="699"/><text class="t" x="411" y="701">8V</text>
<use href="#al" x="657" y="702"/><text class="t" x="664" y="704">8V</text>
<use href="#tg" x="157" y="737"/><text class="t" x="160" y="739">EXT-B</text>
<use href="#tg" x="157" y="745"/><text class="t" x="160" y="747">EXT-G</text>
<use href="#tg" x="157" y="753"/><text class="t" x="160" y="755">EXT-R</text>
<use href="#tg" x="157" y="762"/><text class="t" x="160" y="764">EXT-FB</text>
<rect x="161" y="772" width="54" height="21" class="d"/><text class="t" x="166" y="778">W/O STI OPTION</text><text class="t" x="198" y="789">J5003</text>
<use href="#c" x="413.2" y="760"/><use href="#c" x="430.3" y="755"/><use href="#c" x="447.4" y="750"/><use href="#c" x="481.6" y="760"/><use href="#c" x="584.2" y="752"/><use href="#c" x="601.3" y="740"/><use href="#c" x="618.4" y="770"/><use href="#c" x="635.5" y="765"/><use href="#c" x="440" y="740"/><use href="#c" x="530" y="710"/><use href="#c" x="560" y="720"/><use href="#c" x="310.6" y="745"/><use href="#c" x="287" y="765"/><use href="#c" x="255" y="765"/><use href="#c" x="270" y="765"/>
<use href="#c" x="242.2" y="775"/><use href="#c" x="259.3" y="780"/><use href="#c" x="276.4" y="775"/><use href="#c" x="293.5" y="780"/><use href="#c" x="532.9" y="745"/><use href="#c" x="464.5" y="765"/>
<use href="#g" x="413.2" y="770"/><use href="#g" x="440" y="748"/><use href="#g" x="490" y="742"/><use href="#g" x="575" y="742"/><use href="#g" x="635" y="742"/><use href="#g" x="230" y="782"/><use href="#g" x="650" y="717"/><use href="#g" x="560" y="742"/>
<circle cx="437" cy="764" r="3" class="b"/><text class="t" x="441" y="766">P301B</text>
<g class="t"><text x="215" y="735">R533</text><text x="232" y="738">R526</text><text x="250" y="740">R527</text><text x="268" y="738">R528</text><text x="285" y="740">R529</text><text x="185" y="736">R532</text><text x="185" y="744">R534</text><text x="185" y="752">R535</text><text x="185" y="760">R536</text><text x="205" y="758">C516</text><text x="240" y="772">C517</text><text x="258" y="778">C518</text><text x="275" y="780">C519</text><text x="293" y="778">C520</text><text x="300" y="760">C521</text><text x="330" y="745">C524</text><text x="348" y="748">C525</text><text x="366" y="745">C526</text><text x="385" y="750">C527</text><text x="400" y="760">C528</text><text x="418" y="752">C529</text><text x="440" y="730">L503</text><text x="420" y="720">R540</text><text x="478" y="700">Q503</text><text x="478" y="745">R545</text><text x="476" y="725">C533</text><text x="505" y="780">C535</text><text x="525" y="770">C537</text><text x="540" y="780">R547</text><text x="555" y="785">C540</text><text x="575" y="780">R548</text><text x="590" y="775">C543</text><text x="592" y="730">L504</text><text x="612" y="760">R550</text><text x="625" y="730">R552</text><text x="640" y="725">C546</text><text x="620" y="700">Q504</text><text x="550" y="690">R556</text><text x="565" y="705">C550</text><text x="515" y="690">R560</text><text x="355" y="760">R531</text><text x="372" y="770">C530</text><text x="395" y="778">C531</text><text x="530" y="690">C552</text><text x="330" y="785">C522</text><text x="348" y="790">C523</text><text x="365" y="785">R538</text><text x="383" y="790">R539</text><text x="420" y="790">C532</text><text x="452" y="790">R541</text><text x="520" y="790">C536</text><text x="600" y="790">R549</text><text x="640" y="788">C547</text></g>

<!-- IC501 body -->
<path d="M192,799H686V843A7,7 0 0 0 686,857V892H192Z" fill="#fff" stroke="#000" stroke-width="2.5"/>
<text class="L" x="140" y="813" style="font-size:12px" textLength="43" lengthAdjust="spacingAndGlyphs">IC501</text>
<text class="L" x="129" y="830" style="font-size:12px" textLength="62" lengthAdjust="spacingAndGlyphs">TDA8844</text>
<g class="w" style="stroke-width:1.1">
<rect x="198" y="817" width="15" height="13"/><rect x="217" y="819" width="20" height="9"/><rect x="251" y="821" width="49" height="12"/><rect x="216" y="833" width="19" height="10"/><rect x="239" y="837" width="24" height="9"/><rect x="274" y="835" width="26" height="11"/><rect x="326" y="823" width="41" height="11"/>
<rect x="239" y="851" width="25" height="8"/><rect x="200" y="859" width="27" height="14"/><rect x="238" y="860" width="27" height="13"/><rect x="270" y="862" width="13" height="11"/><rect x="290" y="863" width="25" height="9"/><rect x="354" y="863" width="14" height="10"/><rect x="383" y="862" width="17" height="10"/><rect x="402" y="862" width="16" height="11"/>
<rect x="447" y="834" width="23" height="9"/><rect x="493" y="829" width="28" height="14"/><rect x="435" y="860" width="23" height="10"/><rect x="495" y="858" width="25" height="11"/><rect x="581" y="867" width="30" height="10"/><rect x="625" y="868" width="21" height="9"/><rect x="652" y="868" width="23" height="10"/>
<rect x="572" y="822" width="24" height="11"/><rect x="615" y="823" width="19" height="8"/><rect x="661" y="834" width="14" height="7"/><rect x="569" y="847" width="18" height="10"/><rect x="597" y="848" width="20" height="8"/><rect x="631" y="848" width="17" height="10"/><rect x="655" y="848" width="12" height="10"/>
<path d="M357,865L361,871L365,865ZM527,878L540,866L553,878ZM656,870L663.5,877L671,870ZM587,852L571,852L587,848M655,848L667,858M667,848L655,858"/>
<path d="M300,827H326M235,840H239M264,840H274M300,842H326V847M264,855H330V848H470V843M228,866H238M315,867H354M368,867H383M418,867H435M458,865H495M520,863H527M470,838H493M507,843V850H440V860M584,833V847M607,833V848M617,852H631M648,852H655M667,844V834M611,872H625M646,872H652M540,858V850H575"/>
</g>
<g class="t" style="font-size:3.2px"><text x="200" y="824">PEAK</text><text x="200" y="828">DET</text><text x="219" y="825">CLAMP</text><text x="261" y="829">RGB CLAMP</text><text x="218" y="839">BLK</text><text x="278" y="841">FAST SEL</text><text x="336" y="830">RGB OUT</text><text x="243" y="857">MATRIX</text><text x="202" y="865">R-Y/B-Y</text><text x="202" y="870">DEM</text><text x="240" y="866">R-Y/B-Y</text><text x="242" y="870">CLAMP</text><text x="271" y="868">AC</text><text x="294" y="869">VCOX</text><text x="386" y="869">BTS</text><text x="404" y="867">BCF</text><text x="449" y="840">COLOR</text><text x="496" y="835">CVBS</text><text x="496" y="840">SWITCH</text><text x="441" y="867">OSC</text><text x="497" y="863">VERT</text><text x="583" y="872">VERTICAL</text><text x="629" y="874">H/A</text><text x="575" y="829">SIF</text><text x="617" y="829">VCO/2</text><text x="663" y="839">BPF</text><text x="634" y="855">VCO</text></g>
<g class="t" style="font-size:3.6px">
<text transform="translate(210,815) rotate(-90)">R IN</text><text transform="translate(227,815) rotate(-90)">G IN</text><text transform="translate(244,815) rotate(-90)">B IN</text><text transform="translate(261,817) rotate(-90)">INSW</text><text transform="translate(278,817) rotate(-90)">BL OUT</text><text transform="translate(312,817) rotate(-90)">BLACK</text><text transform="translate(329,817) rotate(-90)">R OUT</text><text transform="translate(346,817) rotate(-90)">G OUT</text><text transform="translate(363,817) rotate(-90)">B OUT</text><text transform="translate(398,817) rotate(-90)">CVBS OUT</text><text transform="translate(415,817) rotate(-90)">Y OUT</text><text transform="translate(449,815) rotate(-90)">SCL</text><text transform="translate(466,817) rotate(-90)">CVBS INT</text><text transform="translate(500,817) rotate(-90)">CVBS</text><text transform="translate(517,817) rotate(-90)">AUDIO</text><text transform="translate(551,817) rotate(-90)">AUDIO</text><text transform="translate(620,817) rotate(-90)">SIF IN</text><text transform="translate(654,817) rotate(-90)">EXT AUD</text><text transform="translate(671,817) rotate(-90)">SOUND IF</text>
<text transform="translate(210,888) rotate(-90)">B-Y IN</text><text transform="translate(227,888) rotate(-90)">R-Y IN</text><text transform="translate(244,888) rotate(-90)">B-Y OUT</text><text transform="translate(261,888) rotate(-90)">R-Y OUT</text><text transform="translate(278,888) rotate(-90)">XTAL</text><text transform="translate(295,888) rotate(-90)">XTAL</text><text transform="translate(312,888) rotate(-90)">LOOP</text><text transform="translate(346,888) rotate(-90)">VP2</text><text transform="translate(363,888) rotate(-90)">SEC</text><text transform="translate(380,888) rotate(-90)">BLACK</text><text transform="translate(414,888) rotate(-90)">PH2LF</text><text transform="translate(431,888) rotate(-90)">PH1LF</text><text transform="translate(448,888) rotate(-90)">GND</text><text transform="translate(499,888) rotate(-90)">VERT</text><text transform="translate(516,888) rotate(-90)">VERT</text><text transform="translate(550,888) rotate(-90)">IFIN</text><text transform="translate(567,888) rotate(-90)">IFIN</text><text transform="translate(601,888) rotate(-90)">TUNER</text><text transform="translate(635,888) rotate(-90)">DEC SDM</text><text transform="translate(669,888) rotate(-90)">AUDIO</text>
</g>

<!-- below IC501 -->
<g class="w">
<path d="M208,892V905H203M225.1,892V920H203M242.2,892V915M259.3,892V935M276.4,892V925M293.5,892V912M310.6,892V930M327.7,892V940M344.8,892V915M361.9,892V940M379,892V925M396.1,892V1003M413.2,892V1003M430.3,892V910M447.4,892V950M464.5,892V912M481.6,892V1003M498.7,892V1003M515.8,892V1003M532.9,892V1003M550,892V1003M567.1,892V1003M584.2,892V1003M601.3,892V915M618.4,892V935M635.5,892V925M652.6,892V945M669.7,892V910"/>
<path d="M396,1003H660M110,897H152M110,905H152M110,917H152M110,925H152M203,905H225"/>
<path d="M470,975L495,945M300,965H340V1000H470M225,960H340M600,940H640M628,935V945M610,935V945"/>
<path d="M693,690V948M708,957V1237M713,952H720V945M703,958V965M712,967H903"/>
<path d="M310,930H327M344,915H361M379,925V950H395M430,910H447M601,915H618M635,925H652"/>
</g>
<circle cx="286" cy="946" r="22" class="w"/>
<rect x="152" y="897" width="51" height="38" class="d"/>
<text class="t" x="172" y="905">J5002</text><text class="t" x="172" y="920">J5003</text><text class="t" x="140" y="946">W/O STI OPTION</text>
<path d="M422,988H427V975H430V988H435V975H438V988H443" fill="none" stroke="#111" stroke-width="1.2"/>
<path d="M445,973L455,958V973L465,958V973" fill="none" stroke="#111" stroke-width="1.3"/>
<text class="t" x="420" y="996">5.5Vp-p</text><text class="t" x="462" y="983">1.5Vp-p</text>
<use href="#pv" x="396.1" y="962"/><use href="#pv" x="413.2" y="965"/><use href="#pv" x="481.6" y="963"/><use href="#pv" x="498.7" y="963"/><use href="#pv" x="515.8" y="963"/><use href="#pv" x="532.9" y="963"/><use href="#pv" x="550" y="963"/><use href="#pv" x="567.1" y="963"/><use href="#pv" x="584.2" y="962"/>
<use href="#q" x="708" y="952"/>
<circle cx="632" cy="933" r="3" class="b"/>
<use href="#c" x="242.2" y="915"/><use href="#c" x="259.3" y="928"/><use href="#c" x="293.5" y="912"/><use href="#c" x="327.7" y="930"/><use href="#c" x="361.9" y="932"/><use href="#c" x="430.3" y="910"/><use href="#c" x="447.4" y="940"/><use href="#c" x="464.5" y="912"/><use href="#c" x="601.3" y="915"/><use href="#c" x="618.4" y="925"/><use href="#c" x="652.6" y="935"/><use href="#c" x="669.7" y="910"/><use href="#c" x="708" y="985"/>
<use href="#c" x="344.8" y="905"/><use href="#c" x="379" y="915"/><use href="#c" x="310.6" y="920"/><use href="#c" x="635.5" y="915"/>
<use href="#g" x="242.2" y="925"/><use href="#g" x="259.3" y="938"/><use href="#g" x="293.5" y="922"/><use href="#g" x="361.9" y="942"/><use href="#g" x="430.3" y="920"/><use href="#g" x="464.5" y="922"/><use href="#g" x="601.3" y="925"/><use href="#g" x="652.6" y="945"/><use href="#g" x="669.7" y="920"/><use href="#g" x="720" y="946"/><use href="#g" x="628" y="946"/><use href="#g" x="610" y="946"/>
<g class="t"><text x="262" y="912">C564</text><text x="272" y="960">L510</text><text x="280" y="930">R561</text><text x="300" y="905">C565</text><text x="315" y="925">R563</text><text x="335" y="912">C566</text><text x="345" y="930">R565</text><text x="365" y="925">C568</text><text x="385" y="935">R570</text><text x="390" y="950">C569</text><text x="433" y="925">C571</text><text x="452" y="935">C573</text><text x="470" y="925">R575</text><text x="485" y="950">L507</text><text x="505" y="950">L508</text><text x="520" y="930">C578</text><text x="540" y="930">R580</text><text x="600" y="932">P603A/B</text><text x="610" y="920">C591</text><text x="625" y="915">R592</text><text x="656" y="925">C593</text><text x="680" y="930">R611</text><text x="690" y="958">Q702</text><text x="712" y="975">R607</text><text x="712" y="995">C701</text><text x="373" y="965">R582</text><text x="373" y="975">D504</text><text x="213" y="915">C560</text><text x="230" y="930">R562</text><text x="312" y="945">C567</text><text x="350" y="950">R566</text><text x="545" y="945">C580</text><text x="560" y="955">R581</text><text x="585" y="950">C583</text><text x="645" y="955">R593</text></g>

<!-- P605A -->
<text class="s" x="755" y="745" style="font-size:7px">P605A</text>
<rect x="714" y="778" width="104" height="10" class="w" style="stroke-width:1.2"/>
<g class="t" style="font-size:3.8px"><text transform="translate(722,776) rotate(-90)">GND</text><text transform="translate(734,776) rotate(-90)">AVD-OUT(R)</text><text transform="translate(745,776) rotate(-90)">AVD-OUT(L)</text><text transform="translate(756,776) rotate(-90)">R</text><text transform="translate(768,776) rotate(-90)">G</text><text transform="translate(779,776) rotate(-90)">GND</text><text transform="translate(790,776) rotate(-90)">B</text><text transform="translate(802,776) rotate(-90)">SCL</text><text transform="translate(814,776) rotate(-90)">SDA</text></g>
<g class="w"><path d="M720,788V795M777,788V795M732,788V846Q732,850 736,850H903M743,788V846M754,788V810M766,788V810M788,788V810M800,788V810M812,788V810"/></g>
<use href="#g" x="720" y="796"/><use href="#g" x="777" y="796"/>
<use href="#pl" x="732" y="805"/><use href="#pl" x="743" y="805"/>
<path d="M750,810h8v12l-4,4l-4,-4zM762,810h8v12l-4,4l-4,-4zM784,810h8v12l-4,4l-4,-4z" fill="#fff" stroke="#111"/>
<use href="#ps" x="800" y="810"/><use href="#ps" x="812" y="810"/>
<use href="#q" x="745" y="707"/>
<g class="w"><path d="M745,702V680M750,707H818M760,690H818M775,690V715M790,690V715M745,712V715"/></g>
<use href="#g" x="745" y="716"/>
<use href="#c" x="775" y="700"/><use href="#c" x="790" y="705"/>
<use href="#al" x="818" y="686"/><text class="t" x="825" y="688">8V</text>
<use href="#al" x="818" y="708"/><text class="t" x="822" y="710">P1.8V</text>
<g class="t"><text x="728" y="710">Q603</text><text x="760" y="686">R604</text><text x="780" y="686">R605</text><text x="765" y="717">C603</text><text x="785" y="718">C605</text><text x="800" y="713">R606</text></g>

<!-- long right lines -->
<g class="w" style="stroke:#333">
<path d="M777,870H903M777,870V1041Q777,1045 773,1045H645"/>
<path d="M150,1008H903M170,1021H903"/>
<path d="M688,1230V1073H900M657,1250V1097Q657,1091 663,1091H900M736,1091V1237M746,1091V1247M783,1091V1237M793,1091V1247M812,1091V1247M663,1250V1222H900"/>
<path d="M643,1045V1230M630,1040V1230"/>
</g>
<use href="#pm" x="688" y="1102"/><use href="#pm" x="707" y="1102"/><use href="#pm" x="736" y="1099"/><use href="#pm" x="746" y="1103"/><use href="#pm" x="783" y="1102"/><use href="#pm" x="793" y="1102"/><use href="#pm" x="812" y="1102"/>
<g class="w"><path d="M688,1180H697V1230M736,1180H728V1205M746,1180H758V1205M783,1180H776V1205M793,1180H806V1205M812,1180H820V1245"/></g>
<use href="#g" x="688" y="1206"/><use href="#g" x="728" y="1206"/><use href="#g" x="758" y="1206"/><use href="#g" x="776" y="1206"/><use href="#g" x="806" y="1206"/><use href="#g" x="672" y="1226"/>
<g class="t"><text x="676" y="1167">R6012</text><text x="694" y="1172">R6013</text><text x="724" y="1162">R6014</text><text x="677" y="1195">R6015</text><text x="716" y="1193">R6016</text><text x="747" y="1195">R6017</text><text x="768" y="1195">R6018</text><text x="795" y="1195">R6019</text></g>
<path d="M693,1228H910M693,1228Q680,1228 682,1238L686,1250Q688,1256 696,1256H910M910,1224q3,4 0,8q-3,4 0,8q3,4 0,8q-3,4 0,8q3,3 0,5" fill="none" stroke="#111" stroke-width="1.4"/>
<g class="pd" style="stroke-width:6.5"><path d="M688,1237H821.1" stroke-dasharray="0 19"/><path d="M698,1247H812.1" stroke-dasharray="0 19"/></g>
<g class="pw" style="stroke-width:2.6"><path d="M688,1237H821.1" stroke-dasharray="0 19"/><path d="M698,1247H812.1" stroke-dasharray="0 19"/></g>

<!-- ================= BOTTOM LEFT / TUNER ================= -->
<g class="w">
<path d="M148,945H200V1000M200,960H215V985M126,972H146M190,972H196M126,995H150M182,995H230V1008M126,1010H146M170,1010H215V1021M126,1020H136M157,1020H170M126,1032H132M162,1032H178M188,1032H200V1010"/>
<path d="M154,1068H245M154,1095H245M154,1121H245M154,1134H245M154,1150H200V1180M170,1150V1192M215,1150V1175M250,1150V1200"/>
<path d="M200,1040V1055M184,1040V1060H204M205,985H220M262,1050H300V1062M262,1070H300M290,1010V1060M272,1030H290"/>
<path d="M223,1227H632M223,1215V1227M300,1205V1227M345,1210V1227"/>
</g>
<path d="M229,1028H262V1198H254V1210H237V1198H229Z" fill="#fff" stroke="#111" stroke-width="1.5"/>
<text class="t" x="236" y="1025" style="font-size:6px">TU101</text>
<g class="t" style="font-size:3.6px"><text x="251" y="1045">IF2</text><text x="251" y="1059">IF1</text><text x="251" y="1071">33V</text><text x="251" y="1085">NC</text><text x="251" y="1098">5V</text><text x="251" y="1111">NC</text><text x="251" y="1125">SDA</text><text x="251" y="1138">SCL</text><text x="251" y="1151">AS</text><text x="251" y="1165">NC</text><text x="251" y="1178">AGC</text></g>
<use href="#q" x="196" y="966"/><use href="#q" x="184" y="1032"/><use href="#q" x="160" y="1223"/><use href="#q" x="180" y="1203"/>
<use href="#ar" x="134" y="945"/><text class="t" x="137" y="947">8V</text>
<use href="#tg" x="146" y="972"/><text class="t" x="148" y="974">CVBS2-OUT</text>
<use href="#tg" x="150" y="995"/><text class="t" x="152" y="997">TX1-CVBS</text>
<use href="#tg" x="146" y="1010"/><text class="t" x="149" y="1012">TX1-FB</text>
<use href="#tg" x="136" y="1020"/><text class="t" x="139" y="1022">RGB-FB</text>
<use href="#tg" x="132" y="1032"/><text class="t" x="134" y="1034">TX1/RGB-FB</text>
<use href="#al" x="204" y="1056"/><text class="t" x="210" y="1058">8V</text>
<use href="#ar" x="136" y="1068"/><text class="t" x="138" y="1070">P5/90</text>
<use href="#ar" x="136" y="1095"/><text class="t" x="139" y="1097">8V</text>
<use href="#ar" x="136" y="1121"/><text class="t" x="138" y="1123">SDA</text>
<use href="#ar" x="136" y="1134"/><text class="t" x="138" y="1136">SCL</text>
<use href="#ar" x="136" y="1150"/><text class="t" x="139" y="1152">8V</text>
<rect x="131" y="1176" width="57" height="54" class="d"/><text class="s" x="142" y="1173">B</text>
<use href="#tg" x="134" y="1211"/><text class="t" x="136" y="1213">VIDEO</text>
<use href="#c" x="180" y="1068"/><use href="#c" x="196" y="1068"/><use href="#c" x="215" y="1068"/><use href="#c" x="180" y="1095"/><use href="#c" x="200" y="1095"/><use href="#c" x="215" y="1095"/><use href="#c" x="215" y="1160"/><use href="#c" x="250" y="1170"/><use href="#c" x="185" y="1185"/><use href="#c" x="190" y="985"/><use href="#c" x="160" y="1040"/>
<use href="#g" x="180" y="1075"/><use href="#g" x="196" y="1075"/><use href="#g" x="215" y="1075"/><use href="#g" x="180" y="1102"/><use href="#g" x="200" y="1102"/><use href="#g" x="215" y="1102"/><use href="#g" x="160" y="1230"/><use href="#g" x="180" y="1225"/><use href="#g" x="190" y="1050"/><use href="#g" x="190" y="993"/><use href="#g" x="215" y="998"/>
<g class="t"><text x="205" y="950">R535</text><text x="205" y="956">C501</text><text x="150" y="960">C504</text><text x="170" y="962">R508</text><text x="210" y="972">R510</text><text x="208" y="985">R512</text><text x="200" y="1030">Q501</text><text x="150" y="1046">R533</text><text x="172" y="1050">R534</text><text x="165" y="1065">R111</text><text x="185" y="1064">C125</text><text x="205" y="1064">C126</text><text x="222" y="1064">C127</text><text x="170" y="1091">L101</text><text x="190" y="1091">C118</text><text x="208" y="1091">C119</text><text x="210" y="1118">R113</text><text x="210" y="1131">R114</text><text x="160" y="1147">R115</text><text x="175" y="1160">R101</text><text x="195" y="1163">C104</text><text x="220" y="1158">R102</text><text x="225" y="1175">C105</text><text x="145" y="1190">R105</text><text x="165" y="1195">Q102</text><text x="147" y="1232">Q101</text><text x="197" y="1190">R106</text><text x="193" y="1210">10uF/50V</text></g>

<!-- box C -->
<rect x="264" y="1116" width="43" height="107" class="d"/><text class="s" x="272" y="1113">C</text>
<rect x="268" y="1145" width="37" height="25" class="d"/>
<use href="#al" x="273" y="1157"/><text class="t" x="279" y="1159">8V</text>
<use href="#q" x="295" y="1140"/><use href="#q" x="296" y="1185"/>
<use href="#pm" x="295" y="1050"/><use href="#ps" x="266" y="1195"/>
<g class="w"><path d="M295,1080V1135M300,1145H307M296,1190V1205M266,1210V1240M296,1175V1170M283,1185H291"/></g>
<use href="#g" x="296" y="1205"/><use href="#g" x="295" y="1148"/>
<g class="t"><text x="272" y="1138">Q105</text><text x="272" y="1183">Q106</text><text x="282" y="1198">R120</text><text x="300" y="1110">R122</text></g>
<rect x="285" y="1067" width="8" height="8" class="w" style="stroke-width:1.5"/><rect x="300" y="1062" width="8" height="8" class="w" style="stroke-width:1.5"/>
<g class="t"><text x="270" y="1055">L102</text><text x="285" y="1048">T102</text><text x="305" y="1052">T103</text><text x="305" y="1058">(OPTION)</text><text x="268" y="1080">R103</text><text x="300" y="1080">C108</text></g>

<!-- TDA4470 -->
<path d="M330,1097H518V1117A6,6 0 0 0 518,1129V1158H330Z" fill="#fff" stroke="#000" stroke-width="3"/>
<text class="L" x="386" y="1141" style="font-size:27px" textLength="89" lengthAdjust="spacingAndGlyphs">TDA4470-M</text>
<g class="t" style="font-size:3.6px"><text transform="translate(341,1115) rotate(-90)">L.AGC</text><text transform="translate(354,1118) rotate(-90)">AGC</text><text transform="translate(367,1115) rotate(-90)">VIF</text><text transform="translate(380,1115) rotate(-90)">AFC</text><text transform="translate(487,1118) rotate(-90)">SIF OUT</text><text transform="translate(341,1154) rotate(-90)">VIDEO</text><text transform="translate(380,1154) rotate(-90)">C</text><text transform="translate(420,1154) rotate(-90)">VCO</text></g>
<g class="w">
<path d="M339,1097V1082M352,1097V1070M365,1097V1090M378,1097V1043M392,1097V1060M405,1097V1043M418,1097V1075M432,1097V1085M445,1097V1043M458,1097V1080M472,1097V1088M485,1097V1060H497M498,1097V1088M512,1097V1060"/>
<path d="M339,1158V1200M352,1158V1180M365,1158V1205M378,1158V1227M392,1158V1195M405,1158V1200M418,1158V1215M432,1158V1190M445,1158V1227M458,1158V1205M472,1158V1220M485,1158V1175H497M498,1158V1180M512,1158V1173"/>
<path d="M345,1043H525M410,1017H545V1040M340,1017V1090M322,1030V1227M427,1030V1003M447,1030V1017M467,1030H480V1003M537,1083H548M537,1173H548M520,1067V1083"/>
</g>
<rect x="421" y="1025" width="50" height="10" class="w" style="stroke-width:1.2"/>
<rect x="491" y="1078" width="50" height="10" class="w" style="stroke-width:1.2"/>
<rect x="491" y="1168" width="50" height="10" class="w" style="stroke-width:1.2"/>
<g class="pd" style="stroke-width:6.5"><path d="M427,1030H467.1" stroke-dasharray="0 10"/><path d="M497,1083H537.1" stroke-dasharray="0 10"/><path d="M497,1173H537.1" stroke-dasharray="0 10"/></g>
<g class="pw" style="stroke-width:2.6"><path d="M427,1030H467.1" stroke-dasharray="0 10"/><path d="M497,1083H537.1" stroke-dasharray="0 10"/><path d="M497,1173H537.1" stroke-dasharray="0 10"/></g>
<use href="#c" x="339" y="1080"/><use href="#c" x="352" y="1068"/><use href="#c" x="365" y="1088"/><use href="#c" x="418" y="1072"/><use href="#c" x="432" y="1083"/><use href="#c" x="458" y="1078"/><use href="#c" x="472" y="1086"/><use href="#c" x="339" y="1185"/><use href="#c" x="352" y="1175"/><use href="#c" x="392" y="1190"/><use href="#c" x="405" y="1185"/><use href="#c" x="432" y="1185"/><use href="#c" x="458" y="1195"/><use href="#c" x="472" y="1210"/>
<use href="#g" x="339" y="1202"/><use href="#g" x="352" y="1182"/><use href="#g" x="365" y="1207"/><use href="#g" x="392" y="1197"/><use href="#g" x="405" y="1202"/><use href="#g" x="432" y="1192"/><use href="#g" x="458" y="1207"/><use href="#g" x="418" y="1217"/>
<use href="#ps" x="418" y="1190"/><use href="#ps" x="445" y="1195"/><use href="#ps" x="378" y="1200"/>
<g class="t"><text x="342" y="1078">C102</text><text x="355" y="1066">C103</text><text x="368" y="1085">R104</text><text x="382" y="1060">R105</text><text x="395" y="1057">C106</text><text x="408" y="1071">R107</text><text x="422" y="1080">C109</text><text x="448" y="1075">R110</text><text x="462" y="1073">C111</text><text x="476" y="1082">R112</text><text x="500" y="1055">R114</text><text x="500" y="1062">C117</text><text x="380" y="1012">C101</text><text x="398" y="1012">C104</text><text x="425" y="1038">SDA1 SCL1</text><text x="342" y="1178">C130</text><text x="356" y="1195">C131</text><text x="368" y="1185">L104</text><text x="395" y="1182">C133</text><text x="408" y="1195">R130</text><text x="435" y="1180">C134</text><text x="448" y="1190">R131</text><text x="462" y="1190">C135</text><text x="476" y="1205">C136</text><text x="500" y="1190">D103</text><text x="500" y="1196">LB-604VTF</text><text x="520" y="1118">IC103</text><text x="520" y="1123">TDA4470</text><text x="493" y="1075">P101</text><text x="345" y="1055">R101</text><text x="360" y="1050">C105</text><text x="412" y="1052">R108</text><text x="455" y="1055">C112</text><text x="470" y="1065">R113</text><text x="335" y="1215">R132</text><text x="385" y="1215">C137</text><text x="430" y="1220">R133</text><text x="455" y="1222">C138</text></g>

<!-- box D -->
<rect x="537" y="1038" width="95" height="187" class="d"/><text class="s" x="560" y="1035">D</text>
<use href="#al" x="612" y="1055"/><text class="t" x="618" y="1057">8V</text>
<use href="#q" x="571" y="1109"/><use href="#q" x="604" y="1198"/><use href="#q" x="556" y="1207"/>
<g class="w"><path d="M548,1060V1225M555,1060H612M570,1060V1100M590,1060V1120M610,1060V1100M571,1114V1150H600V1185M620,1100V1170M590,1140H625M560,1150V1200M530,1207H551M585,1175V1210M556,1212V1225M604,1203V1220M575,1160V1200"/></g>
<use href="#tg" x="515" y="1207"/><text class="t" x="518" y="1209">IF-A</text>
<use href="#c" x="570" y="1070"/><use href="#c" x="590" y="1072"/><use href="#c" x="610" y="1125"/><use href="#c" x="560" y="1165"/><use href="#c" x="585" y="1185"/><use href="#c" x="620" y="1180"/>
<use href="#g" x="604" y="1222"/><use href="#g" x="556" y="1226"/><use href="#g" x="620" y="1190"/><use href="#g" x="590" y="1080"/>
<g class="t"><text x="575" y="1068">C122</text><text x="595" y="1064">R121</text><text x="557" y="1090">R112</text><text x="580" y="1100">L122</text><text x="595" y="1105">R117</text><text x="556" y="1125">Q113</text><text x="580" y="1132">C123</text><text x="600" y="1140">R115</text><text x="560" y="1148">R116</text><text x="600" y="1155">C124</text><text x="575" y="1165">D132</text><text x="565" y="1180">L125</text><text x="590" y="1178">C127</text><text x="610" y="1178">L128</text><text x="565" y="1200">Q114</text><text x="610" y="1195">Q116</text><text x="540" y="1216">R123</text></g>
<rect x="582" y="1234" width="11" height="6" class="w" style="stroke-width:1.5"/>
<path d="M575,1237H582M593,1237H605" class="w"/>

<!-- ================= RIGHT CIRCLES ================= -->
<g class="w" style="stroke:#444"><path d="M858,152H903M866,161H903M886,187H903M886,194H903M886,201H903"/></g>
<g>
<circle cx="908" cy="152" r="5" class="b"/><circle cx="908" cy="161" r="5" class="b"/>
<circle cx="908" cy="187" r="5" class="b"/><circle cx="908" cy="194" r="5" class="b"/><circle cx="908" cy="201" r="5" class="b"/>
<circle cx="908" cy="228" r="5" class="b"/><circle cx="908" cy="236" r="5" class="b"/>
<circle cx="908" cy="258" r="5" class="b"/><circle cx="908" cy="265" r="5" class="b"/>
<circle cx="908" cy="395" r="5" class="b"/>
<circle cx="908" cy="430" r="5" class="b"/><circle cx="908" cy="437" r="5" class="b"/><circle cx="908" cy="444" r="5" class="b"/>
<circle cx="908" cy="453" r="5" class="b"/><circle cx="908" cy="460" r="5" class="b"/>
<circle cx="908" cy="615" r="5" class="b"/><circle cx="908" cy="633" r="5" class="b"/><circle cx="908" cy="664" r="5" class="b"/>
<circle cx="908" cy="850" r="5" class="b"/><circle cx="908" cy="870" r="5" class="b"/><circle cx="908" cy="967" r="5" class="b"/>
<circle cx="908" cy="1008" r="5" class="b"/><circle cx="908" cy="1021" r="5" class="b"/>
<circle cx="905" cy="1073" r="5" class="b"/><circle cx="905" cy="1091" r="5" class="b"/><circle cx="905" cy="1222" r="5" class="b"/>
</g>
<g class="t" style="font-size:5px" text-anchor="middle">
<text x="908" y="154">18</text><text x="908" y="163">19</text><text x="908" y="189">22</text><text x="908" y="196">23</text><text x="908" y="203">24</text><text x="908" y="230">20</text><text x="908" y="238">21</text><text x="908" y="260">16</text><text x="908" y="267">17</text><text x="908" y="397">1</text><text x="908" y="432">13</text><text x="908" y="439">14</text><text x="908" y="446">15</text><text x="908" y="455">11</text><text x="908" y="462">12</text><text x="908" y="617">11</text><text x="908" y="635">9</text><text x="908" y="666">8</text><text x="908" y="852">10</text><text x="908" y="872">7</text><text x="908" y="969">6</text><text x="908" y="1010">5</text><text x="908" y="1023">4</text><text x="905" y="1075">3</text><text x="905" y="1093">2</text><text x="905" y="1224">1</text>
</g>

<!-- side texts -->
<text class="L" transform="translate(79,1247) rotate(-90)" style="font-size:21px" textLength="165" lengthAdjust="spacingAndGlyphs">LG Telaio PC 8KA</text>
<text class="L" transform="translate(932,1256) rotate(-90)" style="font-size:12px" textLength="18" lengthAdjust="spacingAndGlyphs">114</text>
<path d="M27,1277V1293H950" fill="none" stroke="#777" stroke-width="1.2"/>
<path d="M947,420V1000" fill="none" stroke="#ccc" stroke-width="1" stroke-dasharray="6 8"/>

<!-- ================= PIN ROWS (drawn last) ================= -->
<g class="pd">
<path d="M572,283H878.1" stroke-dasharray="0 13.3"/><path d="M572,338H851.4" stroke-dasharray="0 13.3"/>
<path d="M571,482H903.6" stroke-dasharray="0 13.3"/><path d="M571,538H903.6" stroke-dasharray="0 13.3"/>
<path d="M191,438H297.5" stroke-dasharray="0 13.3"/><path d="M191,493H297.5" stroke-dasharray="0 13.3"/>
<path d="M203,162H309.5" stroke-dasharray="0 13.3"/>
<path d="M339,1097H512" stroke-dasharray="0 13.3"/><path d="M339,1158H512" stroke-dasharray="0 13.3"/>
<path d="M245,1043V1176.1" stroke-dasharray="0 13.3"/>
<path d="M208,799H669.8" stroke-dasharray="0 17.1"/><path d="M208,892H669.8" stroke-dasharray="0 17.1"/>
<path d="M635,143H727.1" stroke-dasharray="0 11.5"/><path d="M745,143H860.1" stroke-dasharray="0 11.5"/>
<path d="M348,376H405.6" stroke-dasharray="0 11.5"/><path d="M313,596H393.6" stroke-dasharray="0 11.5"/>
<path d="M720,783H812.1" stroke-dasharray="0 11.5"/>
<path d="M348.5,170V250.6" stroke-dasharray="0 11.5"/><path d="M348.5,263V297.6" stroke-dasharray="0 11.5"/>
</g>
<g class="pw">
<path d="M572,283H878.1" stroke-dasharray="0 13.3"/><path d="M572,338H851.4" stroke-dasharray="0 13.3"/>
<path d="M571,482H903.6" stroke-dasharray="0 13.3"/><path d="M571,538H903.6" stroke-dasharray="0 13.3"/>
<path d="M191,438H297.5" stroke-dasharray="0 13.3"/><path d="M191,493H297.5" stroke-dasharray="0 13.3"/>
<path d="M203,162H309.5" stroke-dasharray="0 13.3"/>
<path d="M339,1097H512" stroke-dasharray="0 13.3"/><path d="M339,1158H512" stroke-dasharray="0 13.3"/>
<path d="M245,1043V1176.1" stroke-dasharray="0 13.3"/>
<path d="M208,799H669.8" stroke-dasharray="0 17.1"/><path d="M208,892H669.8" stroke-dasharray="0 17.1"/>
<path d="M635,143H727.1" stroke-dasharray="0 11.5"/><path d="M745,143H860.1" stroke-dasharray="0 11.5"/>
<path d="M348,376H405.6" stroke-dasharray="0 11.5"/><path d="M313,596H393.6" stroke-dasharray="0 11.5"/>
<path d="M720,783H812.1" stroke-dasharray="0 11.5"/>
<path d="M348.5,170V250.6" stroke-dasharray="0 11.5"/><path d="M348.5,263V297.6" stroke-dasharray="0 11.5"/>
</g>
</svg>
</body></html>
